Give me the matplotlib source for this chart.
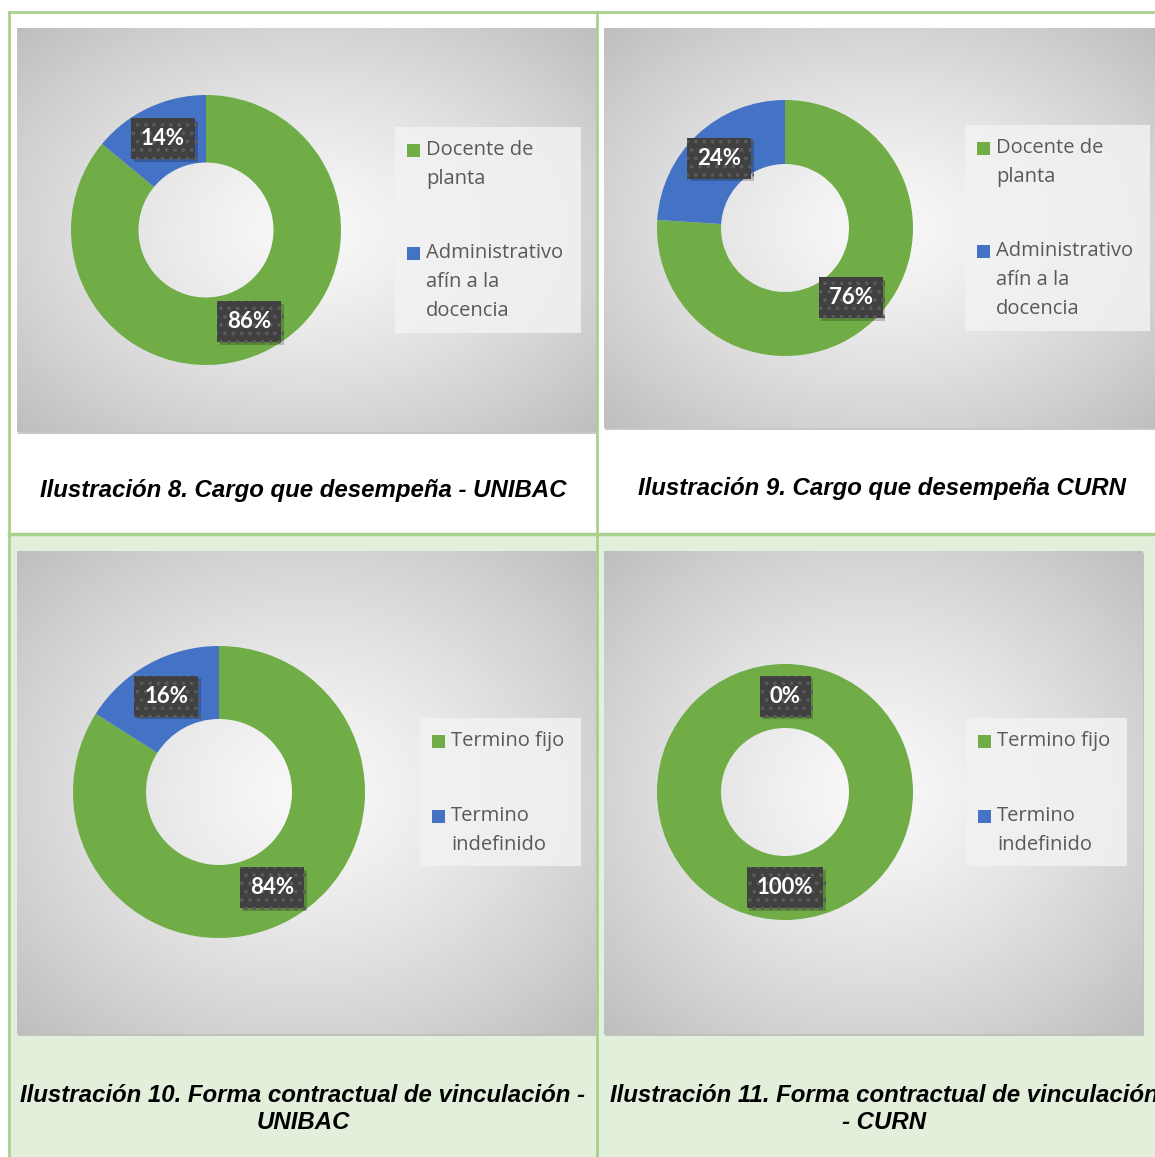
import numpy as np
import matplotlib
matplotlib.use("Agg")
import matplotlib.pyplot as plt
import matplotlib.patches as mpatches
import matplotlib.patheffects as pe

# datos de las cuatro ilustraciones
cargo_labels = ["Docente de\nplanta", "Administrativo\nafín a la\ndocencia"]
contrato_labels = ["Termino fijo", "Termino\nindefinido"]
unibac_cargo = [86, 14]
curn_cargo = [76, 24]
unibac_contrato = [84, 16]
curn_contrato = [100, 0]
captions = [
    "Ilustración 8. Cargo que desempeña - UNIBAC",
    "Ilustración 9. Cargo que desempeña CURN",
    "Ilustración 10. Forma contractual de vinculación -\nUNIBAC",
    "Ilustración 11. Forma contractual de vinculación\n- CURN",
]
colors = ["#70ad47", "#4472c4"]

W, H = 1155, 1157
plt.rcParams["hatch.linewidth"] = 1.5
fig = plt.figure(figsize=(W / 100, H / 100), dpi=100)
bg = fig.add_axes([0, 0, 1, 1])
bg.axis("off")

border = "#a9d08e"
# fondo de la tabla (fila inferior verde claro)
bg.add_patch(mpatches.Rectangle((9, 534), W - 9, H - 534, fc="#e2efda", ec="none"))
bg.plot([9, 9], [12, H], color=border, lw=2)
bg.plot([596.5, 596.5], [12, H], color=border, lw=2)
bg.plot([9, W], [12, 12], color=border, lw=2)
bg.plot([9, W], [533.5, 533.5], color=border, lw=2.5)

# layout de cada panel
layout = [
    dict(box=(17, 28, 596, 432), c=(206, 230), R=135, leg=(395, 127, 581, 333), ly=(150, 253),
         labels=cargo_labels, values=unibac_cargo, cap=(303, 491)),
    dict(box=(604, 28, 1160, 428), c=(785, 228), R=128, leg=(965, 125, 1150, 331), ly=(148, 251),
         labels=cargo_labels, values=curn_cargo, cap=(882, 488)),
    dict(box=(17, 551, 596, 1034), c=(219, 792), R=146, leg=(420, 718, 581, 866), ly=(741, 816),
         labels=contrato_labels, values=unibac_contrato, cap=(303, 1109)),
    dict(box=(604, 551, 1143, 1034), c=(785, 792), R=128, leg=(966, 718, 1127, 866), ly=(741, 816),
         labels=contrato_labels, values=curn_contrato, cap=(884, 1109)),
]


def gradient(w, h):
    yy, xx = np.mgrid[-1:1:complex(0, h), -1:1:complex(0, w)]
    r = np.sqrt(xx ** 2 + yy ** 2) / np.sqrt(2)
    v = 0.975 - 0.23 * r ** 1.3
    return np.dstack([v, v, v])


for k, p in enumerate(layout):
    x0, y0, x1, y1 = p["box"]
    # sombra del area del grafico
    bg.add_patch(mpatches.Rectangle((x0 + 1, y0 + 2), x1 - x0, y1 - y0, fc="#a6a6a6", ec="none", alpha=0.6))
    bg.imshow(gradient(int(x1 - x0), int(y1 - y0)), extent=(x0, x1, y1, y0), aspect="auto", zorder=2)

    # leyenda
    lx0, ly0, lx1, ly1 = p["leg"]
    bg.add_patch(mpatches.Rectangle((lx0, ly0), lx1 - lx0, ly1 - ly0, fc="#f2f2f2", ec="none", alpha=0.85, zorder=3))
    for lab, col, yy in zip(p["labels"], colors, p["ly"]):
        bg.add_patch(mpatches.Rectangle((lx0 + 12, yy - 6.5), 13, 13, fc=col, ec="none", zorder=4))
        for j, line in enumerate(lab.split("\n")):
            bg.text(lx0 + 31, yy + j * 29, line, fontsize=14.5, family="Open Sans", color="#595959",
                    va="center", ha="left", zorder=4)

    # titulo
    bg.text(p["cap"][0], p["cap"][1], captions[k], fontsize=17.3, family="Liberation Sans",
            weight="bold", style="italic", ha="center", va="center", ma="center",
            linespacing=1.2, zorder=4)

    # dona
    cx, cy = p["c"]
    R = p["R"]
    ax = fig.add_axes([(cx - R) / W, 1 - (cy + R) / H, 2 * R / W, 2 * R / H])
    wedges, texts, autotexts = ax.pie(p["values"], colors=colors, startangle=90, counterclock=False,
                                      wedgeprops=dict(width=0.5, linewidth=0),
                                      autopct="%.0f%%", pctdistance=0.75, labeldistance=None,
                                      textprops=dict(color="white", fontsize=16, weight="bold", family="Lato"))
    ax.set_xlim(-1, 1)
    ax.set_ylim(-1, 1)
    for t in autotexts:
        t.set_bbox(dict(boxstyle="square,pad=0.45", fc="#404040", ec="#5a5a5a", lw=0, hatch=".."))
        t.get_bbox_patch().set_path_effects([pe.SimplePatchShadow(offset=(2, -2), shadow_rgbFace="black", alpha=0.2),
                                             pe.Normal()])

bg.set_xlim(0, W)
bg.set_ylim(H, 0)
fig.savefig("out.png", dpi=100, facecolor="white")
